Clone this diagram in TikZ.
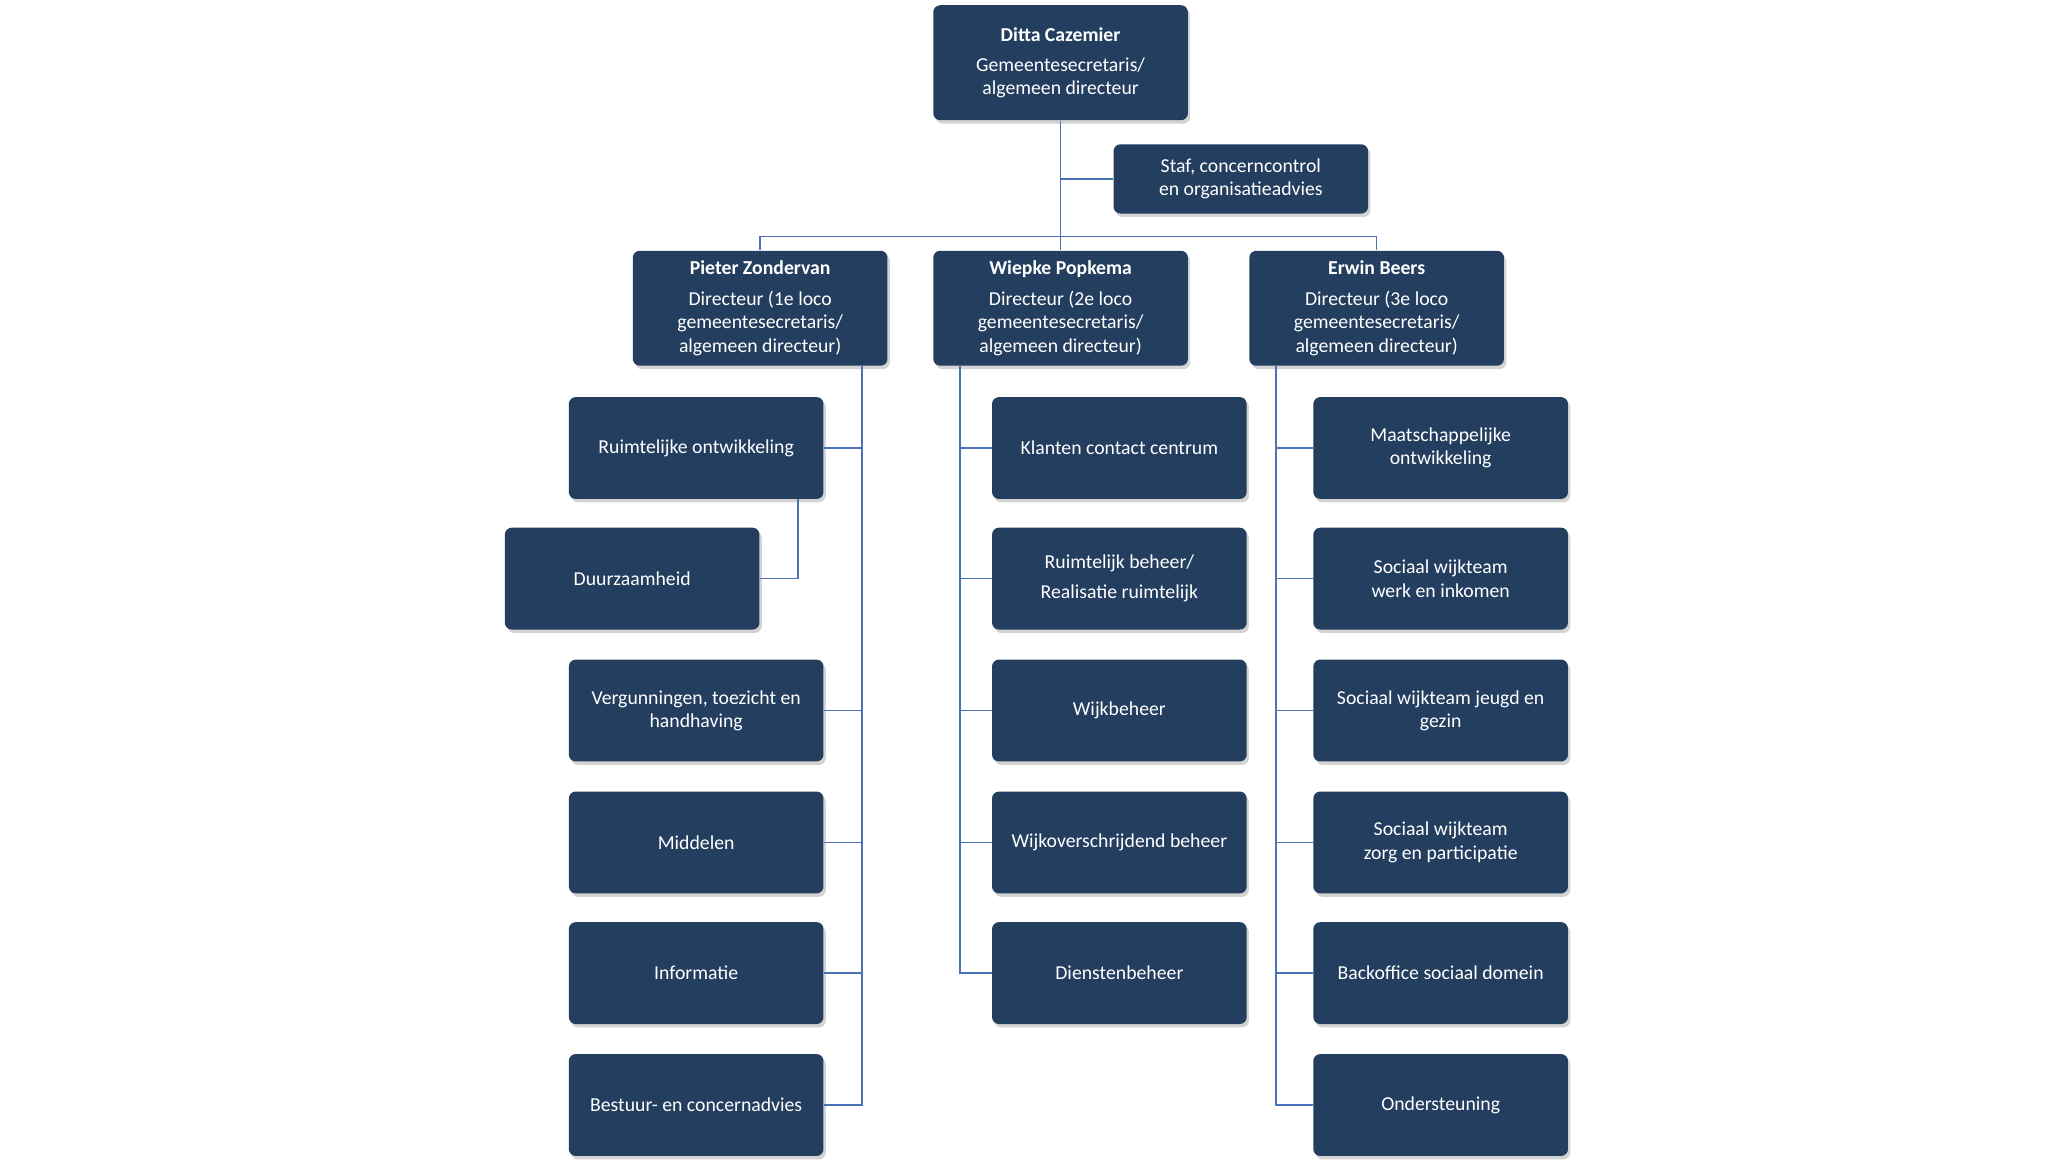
\documentclass[tikz,border=0pt]{standalone}
\usepackage{fontspec}
\setmainfont{Carlito}
\usetikzlibrary{positioning,shadows}
\definecolor{boxblue}{HTML}{243E5F}
\definecolor{lineblue}{HTML}{4A72B8}
\begin{document}
\begin{tikzpicture}[x=0.02cm,y=-0.02cm]
    \tikzstyle{unit}=[rectangle,rounded corners=3pt,fill=boxblue,text=white,
        minimum width=3.9cm,minimum height=1.56cm,align=center,inner sep=2pt,
        font=\fontsize{8.6}{10.2}\selectfont,drop shadow={opacity=0.35,shadow xshift=1pt,shadow yshift=-1.5pt}]
    \tikzstyle{head}=[unit,minimum height=1.76cm]
    \tikzstyle{link}=[draw=lineblue,line width=0.7pt]

    \useasboundingbox (0,0) rectangle (1568,897);

    % top
    \node[head] (top) at (812,48) {\textbf{Ditta Cazemier}\\[3pt]Gemeentesecretaris/\\algemeen directeur};
    \node[unit,minimum height=1.06cm] (staf) at (950,137) {Staf, concerncontrol\\en organisatieadvies};

    % directors
    \node[head] (pz) at (582,236) {\textbf{Pieter Zondervan}\\[3pt]Directeur (1e loco\\gemeentesecretaris/\\algemeen directeur)};
    \node[head] (wp) at (812,236) {\textbf{Wiepke Popkema}\\[3pt]Directeur (2e loco\\gemeentesecretaris/\\algemeen directeur)};
    \node[head] (eb) at (1054,236) {\textbf{Erwin Beers}\\[3pt]Directeur (3e loco\\gemeentesecretaris/\\algemeen directeur)};

    % left column
    \node[unit] (ro) at (533,343) {Ruimtelijke ontwikkeling};
    \node[unit] (du) at (484,443) {Duurzaamheid};
    \node[unit] (vt) at (533,544) {Vergunningen, toezicht en\\handhaving};
    \node[unit] (mi) at (533,645) {Middelen};
    \node[unit] (in) at (533,745) {Informatie};
    \node[unit] (bc) at (533,846) {Bestuur- en concernadvies};

    % middle column
    \node[unit] (kc) at (857,343) {Klanten contact centrum};
    \node[unit] (rb) at (857,443) {Ruimtelijk beheer/\\[3pt]Realisatie ruimtelijk};
    \node[unit] (wb) at (857,544) {Wijkbeheer};
    \node[unit] (wo) at (857,645) {Wijkoverschrijdend beheer};
    \node[unit] (db) at (857,745) {Dienstenbeheer};

    % right column
    \node[unit] (mo) at (1103,343) {Maatschappelijke\\ontwikkeling};
    \node[unit] (sw) at (1103,443) {Sociaal wijkteam\\werk en inkomen};
    \node[unit] (sj) at (1103,544) {Sociaal wijkteam jeugd en\\gezin};
    \node[unit] (sz) at (1103,645) {Sociaal wijkteam\\zorg en participatie};
    \node[unit] (bo) at (1103,745) {Backoffice sociaal domein};
    \node[unit] (on) at (1103,846) {Ondersteuning};

    % connectors
    \coordinate (split) at (812,181);
    \begin{scope}[on background layer/.style={}]
    \draw[link] (top.south) -- (split);
    \draw[link] (top.south |- staf.west) -- (staf.west);
    \draw[link] (split) -| (pz.north);
    \draw[link] (split) -| (eb.north);
    \draw[link] (split) -- (wp.north);
    \end{scope}

    \coordinate (ltrunk) at (660,280);
    \coordinate (mtrunk) at (735,280);
    \coordinate (rtrunk) at (977,280);
    \draw[link] (ltrunk) |- (bc.east);
    \foreach \n in {ro,vt,mi,in} \draw[link] (ltrunk |- \n.east) -- (\n.east);
    \draw[link] (ro.south east) ++(-20,0) coordinate (rd) |- (du.east);
    \draw[link] (mtrunk) |- (db.west);
    \foreach \n in {kc,rb,wb,wo} \draw[link] (mtrunk |- \n.west) -- (\n.west);
    \draw[link] (rtrunk) |- (on.west);
    \foreach \n in {mo,sw,sj,sz,bo} \draw[link] (rtrunk |- \n.west) -- (\n.west);
\end{tikzpicture}
\end{document}
